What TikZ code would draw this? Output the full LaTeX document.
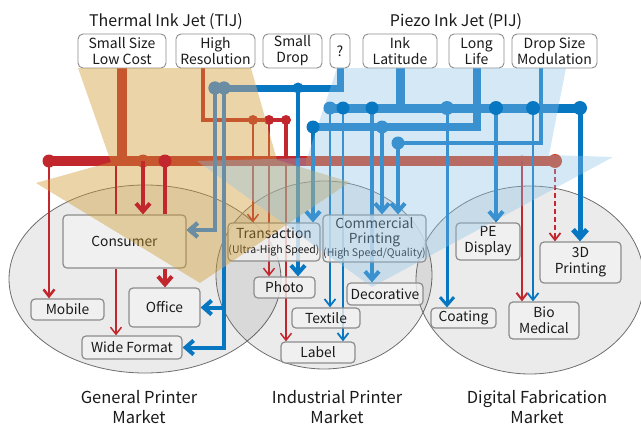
\documentclass[tikz,border=0pt]{standalone}
\usepackage{fontspec}
\setmainfont{Noto Sans CJK JP}
\usetikzlibrary{arrows.meta,positioning}

\definecolor{tijred}{HTML}{C1272D}
\definecolor{rosebase}{HTML}{D03916}
\definecolor{pijblue}{HTML}{0877C2}
\definecolor{slate}{HTML}{6B8DA3}
\definecolor{tanfan}{HTML}{CF9B30}
\definecolor{bluefan}{HTML}{8DC1E6}
\definecolor{mktline}{HTML}{6E6E6E}
\definecolor{boxline}{HTML}{8C8C8C}
\definecolor{boxfill}{HTML}{F2F2F2}
\definecolor{ink}{HTML}{1A1A1A}

\pgfdeclarelayer{markets}
\pgfdeclarelayer{links}
\pgfdeclarelayer{fans}
\pgfdeclarelayer{over}
\pgfsetlayers{markets,links,main,fans,over}

\newcommand{\subtxt}[1]{{\fontsize{10.5}{12}\selectfont #1}}

\begin{document}
\begin{tikzpicture}[x=1pt,y=-1pt,
  market/.style={draw=mktline,line width=0.8pt,fill=black,fill opacity=0.08},
  feature/.style={draw=boxline,line width=0.9pt,rounded corners=5pt,fill=white,text=ink,align=center,inner sep=0pt,minimum height=34pt,font=\fontsize{14}{16}\selectfont},
  segment/.style={draw=boxline,line width=1.2pt,rounded corners=4pt,fill=boxfill,fill opacity=0.8,text opacity=1,text=ink,align=center,inner sep=0pt,font=\fontsize{13.8}{16}\selectfont},
  heading/.style={text=ink,align=center,font=\fontsize{16.5}{19.5}\selectfont},
  tijline/.style={draw=tijred},
  pijline/.style={draw=pijblue},
  slateline/.style={draw=slate},
  bigtip/.style={-{Straight Barb[length=8pt,width=14pt]}},
  thintip/.style={-{Straight Barb[length=7pt,width=11pt]}},
  tijdot/.style={fill=tijred},
  pijdot/.style={fill=pijblue}]

\useasboundingbox (0,0) rectangle (641,426);

\node[heading,font=\fontsize{16}{19}\selectfont] (tijtitle) at (166,22) {Thermal Ink Jet (TIJ)};
\node[heading,font=\fontsize{16}{19}\selectfont] (pijtitle) at (456,22) {Piezo Ink Jet (PIJ)};

\node[feature,minimum width=88pt] (smallsize) at (122,51) {Small Size\\Low Cost};
\node[feature,minimum width=79pt] (highres) at (215.5,51) {High\\Resolution};
\node[feature,minimum width=59pt] (smalldrop) at (292.5,51) {Small\\Drop};
\node[feature,minimum width=20pt] (quest) at (340,51) {?};
\node[feature,minimum width=74pt] (inklat) at (400,51) {Ink\\Latitude};
\node[feature,minimum width=55pt] (longlife) at (476.5,51) {Long\\Life};
\node[feature,minimum width=85pt] (dropsize) at (554.5,51) {Drop Size\\Modulation};

\node[segment,minimum width=123pt,minimum height=53pt] (consumer) at (124.5,241.5) {Consumer};
\node[segment,minimum width=73pt,minimum height=21pt] (mobile) at (67.5,309.5) {Mobile};
\node[segment,minimum width=71pt,minimum height=39pt] (office) at (164.5,307.5) {Office};
\node[segment,minimum width=100pt,minimum height=23pt] (wide) at (132,347.5) {Wide Format};
\node[segment,minimum width=92pt,minimum height=38pt] (trans) at (274,242) {Transaction\\[-1.5pt]\subtxt{(Ultra-High Speed)}};
\node[segment,minimum width=103pt,minimum height=47pt] (comm) at (374.5,238.5) {Commercial\\[-1pt]Printing\\[-2.5pt]\subtxt{(High Speed/Quality)}};
\node[segment,minimum width=61pt,minimum height=21pt] (photo) at (284.5,287.5) {Photo};
\node[segment,minimum width=76pt,minimum height=22pt] (deco) at (385,294) {Decorative};
\node[segment,minimum width=68pt,minimum height=20pt] (textile) at (326,318) {Textile};
\node[segment,minimum width=74pt,minimum height=21pt] (label) at (318,352.5) {Label};
\node[segment,minimum width=64pt,minimum height=37pt] (pedisp) at (488,241.5) {PE\\Display};
\node[segment,minimum width=81pt,minimum height=41pt] (threed) at (580.5,262.5) {3D\\Printing};
\node[segment,minimum width=65pt,minimum height=20pt] (coating) at (463.5,318) {Coating};
\node[segment,minimum width=70pt,minimum height=37pt] (bio) at (544,320.5) {Bio\\Medical};

\node[heading] (genlabel) at (139,407) {General Printer\\Market};
\node[heading] (indlabel) at (337,407) {Industrial Printer\\Market};
\node[heading] (diglabel) at (537,407) {Digital Fabrication\\Market};

\coordinate (q1) at (215,88);
\coordinate (q2) at (224,88);
\coordinate (q3) at (298,88);
\coordinate (h1) at (253,120);
\coordinate (h2) at (269,120);
\coordinate (h3) at (286,120);
\coordinate (i1) at (330,108);
\coordinate (i2) at (343,108);
\coordinate (i3) at (372,108);
\coordinate (i4) at (447,108);
\coordinate (i5) at (496,108);
\coordinate (i6) at (533,108);
\coordinate (i7) at (580,108);
\coordinate (l1) at (313,127);
\coordinate (l2) at (382,127);
\coordinate (m1) at (398,143);
\coordinate (b0) at (49,161);
\coordinate (b1) at (116,161);
\coordinate (b2) at (143,161);
\coordinate (b3) at (165,161);
\coordinate (b4) at (253,161);
\coordinate (b5) at (269,161);
\coordinate (b6) at (286,161);
\coordinate (bx) at (306,161);
\coordinate (b7) at (522,161);
\coordinate (b8) at (555,161);

\begin{pgfonlayer}{markets}
\draw[market] (145,279) ellipse[x radius=136pt,y radius=94pt];
\draw[market] (324,275) ellipse[x radius=108pt,y radius=94pt];
\draw[market] (530,280) ellipse[x radius=114pt,y radius=94pt];
\end{pgfonlayer}

\begin{pgfonlayer}{links}
\draw[tijline,line width=10pt] (b0) -- (bx);
\draw[draw=rosebase,line width=10pt] (bx) -- (b8);
\draw[tijline,line width=10pt] (smallsize.south) -- (smallsize.south |- b0);
\draw[tijline,line width=4pt] ([xshift=-12.5pt]highres.south) |- (h3) -- (b6);
\draw[tijline,line width=2.5pt,thintip] (b0) -- (b0 |- mobile.north);
\draw[tijline,line width=1.5pt,thintip] (h1) -- (h1 |- trans.north);
\draw[tijline,line width=1.5pt,thintip] (h2) -- (h2 |- photo.north);
\draw[tijline,line width=1.5pt,thintip] (h3) -- (h3 |- label.north);
\draw[tijline,line width=2pt,thintip] (b7) -- (b7 |- bio.north);
\draw[tijline,line width=1.8pt,thintip,dash pattern=on 5pt off 3pt] (b8) -- (b8 |- threed.north);
\foreach \p in {b1,b4,b5} \draw[tijline,line width=1pt] (\p) circle[radius=4.5pt];
\draw[draw=rosebase,line width=1pt] (b7) circle[radius=5pt];
\foreach \p/\r in {b0/6.5,b2/6.5,h1/5,h2/5,h3/5} \fill[tijdot] (\p) circle[radius=\r pt];
\fill[rosebase] (b8) circle[radius=7pt];
\draw[pijline,line width=7pt] (quest.south) |- (q1);
\draw[pijline,line width=4pt,bigtip] (q1) |- ([yshift=11.5pt]consumer.east);
\draw[pijline,line width=4pt,bigtip] (q2) |- (wide.east);
\draw[pijline,line width=4pt,bigtip] (q2 |- office.east) -- (office.east);
\draw[pijline,line width=4pt,bigtip] (q3) -- (q3 |- photo.north);
\draw[pijline,line width=9pt] (inklat.south) -- (inklat.south |- i1);
\draw[pijline,line width=9pt] (i1) -- (i7);
\draw[pijline,line width=8pt] (longlife.south) |- (l1);
\draw[pijline,line width=4.5pt] ([xshift=-13.5pt]dropsize.south) |- (m1);
\draw[pijline,line width=1.8pt,thintip] (i1) -- (i1 |- textile.north);
\draw[pijline,line width=1.8pt,thintip] (i2) -- (i2 |- label.north);
\draw[pijline,line width=4pt,bigtip] (i3) -- (i3 |- deco.north);
\draw[pijline,line width=3pt,bigtip] (i4) -- (i4 |- coating.north);
\draw[pijline,line width=4pt,bigtip] (i5) -- (i5 |- pedisp.north);
\draw[pijline,line width=1.8pt,thintip] (i6) -- (i6 |- bio.north);
\draw[pijline,line width=5pt,bigtip] (i7) -- (i7 |- threed.north);
\draw[pijline,line width=4pt,bigtip] (l1) -- (l1 |- trans.north);
\draw[pijline,line width=4pt,bigtip] (l2) -- (l2 |- comm.north);
\draw[pijline,line width=4pt,bigtip] (m1) -- (m1 |- comm.north);
\foreach \p/\r in {q1/6.5,q2/6.5,q3/5.5,i1/6.5,i4/7,l2/6.5,m1/6.5} \fill[pijdot] (\p) circle[radius=\r pt];
\end{pgfonlayer}

\begin{pgfonlayer}{fans}
\fill[tanfan,opacity=0.42] (78,68) -- (251,68) -- (277,160) -- (350,182) -- (200,283) -- (36,183) -- (111,162) -- cycle;
\fill[bluefan,opacity=0.37] (337,68) -- (566,68) -- (549,155) -- (613,157) -- (372,287) -- (197,161) -- (307,158) -- cycle;
\end{pgfonlayer}

\begin{pgfonlayer}{over}
\begin{scope}
\clip (78,68) -- (251,68) -- (277,160) -- (350,182) -- (200,283) -- (36,183) -- (111,162) -- cycle;
\draw[slateline,line width=7pt] (quest.south) |- (q1);
\draw[slateline,line width=4pt,bigtip] (q1) |- ([yshift=11.5pt]consumer.east);
\draw[slateline,line width=4pt] (q2) -- (q2 |- wide.east);
\foreach \p in {q1,q2} \fill[slate] (\p) circle[radius=6.5pt];
\end{scope}
\draw[tijline,line width=1.5pt] ([yshift=-4.5pt]b1) -- (consumer.north -| b1);
\draw[tijline,line width=1.5pt,thintip] (consumer.south -| b1) -- (wide.north -| b1);
\draw[tijline,line width=4pt,bigtip] (b2) -- (consumer.north -| b2);
\draw[tijline,line width=4pt] (b3) -- (consumer.north -| b3);
\draw[tijline,line width=4pt,bigtip] (consumer.south -| b3) -- (office.north -| b3);
\fill[tijdot] (b3) circle[radius=6.5pt];
\foreach \p/\r in {i2/6.5,i3/6.5,i5/7,i6/7,i7/7,l1/6.5} \fill[pijdot] (\p) circle[radius=\r pt];
\end{pgfonlayer}
\end{tikzpicture}
\end{document}
